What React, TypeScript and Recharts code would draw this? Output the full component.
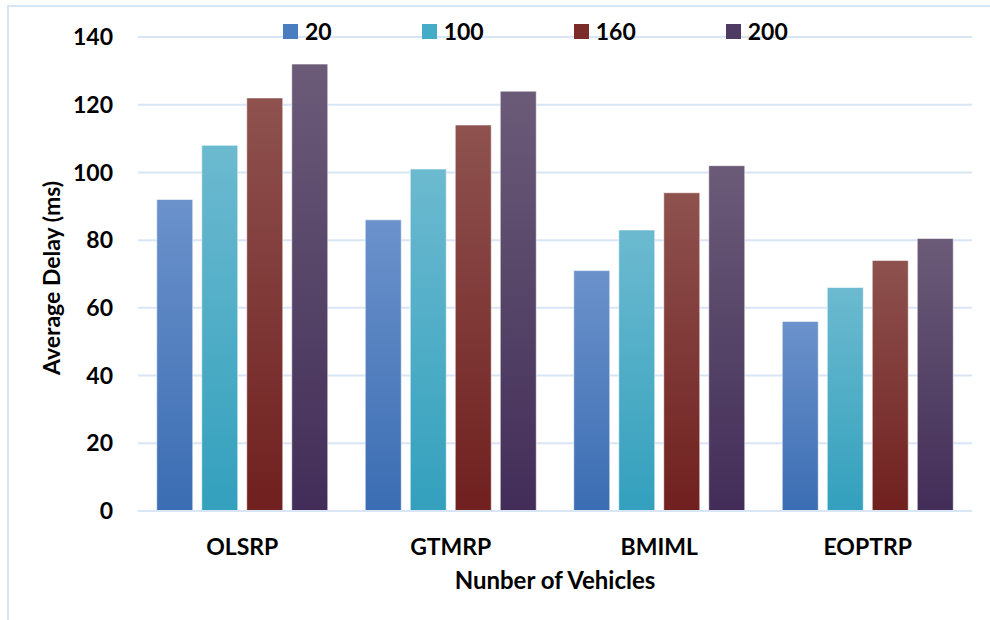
import React from "react";
import { Bar, BarChart, CartesianGrid, Legend, XAxis, YAxis } from "recharts";

const protocols = ["OLSRP", "GTMRP", "BMIML", "EOPTRP"];
const vehicles20 = [92, 86, 71, 56];
const vehicles100 = [108, 101, 83, 66];
const vehicles160 = [122, 114, 94, 74];
const vehicles200 = [132, 124, 102, 80.5];
const yTicks = [0, 20, 40, 60, 80, 100, 120, 140];

const series = [
  { key: "v20", name: "20", top: "#6b92cb", bottom: "#3b6db3", flat: "#4a7cc0" },
  { key: "v100", name: "100", top: "#6cbad0", bottom: "#33a0bd", flat: "#45acc8" },
  { key: "v160", name: "160", top: "#8e524f", bottom: "#70201e", flat: "#7b2b28" },
  { key: "v200", name: "200", top: "#6b5b78", bottom: "#422d58", flat: "#4e3b63" },
];

const data = protocols.map((name, i) => ({
  name,
  v20: vehicles20[i],
  v100: vehicles100[i],
  v160: vehicles160[i],
  v200: vehicles200[i],
}));

const font = "Lato, 'Open Sans', sans-serif";
const gridColor = "#d8e5f5";

// keep the series order, the default legend sorts by value
const renderLegend = () => (
  <div style={{ display: "flex", alignItems: "center", fontFamily: font, fontWeight: 700, fontSize: 23, color: "#000" }}>
    {series.map((s) => (
      <div key={s.key} style={{ display: "flex", alignItems: "center", marginRight: 90 }}>
        <span style={{ display: "inline-block", width: 15, height: 15, background: s.flat, marginRight: 7 }} />
        <span style={{ lineHeight: "18px" }}>{s.name}</span>
      </div>
    ))}
  </div>
);

export default function App() {
  return (
    <div style={{ position: "absolute", left: 0, top: 0, width: 990, height: 620, background: "#fff" }}>
      <div
        style={{
          position: "absolute",
          left: 7,
          top: 5,
          width: 983,
          height: 615,
          borderTop: `2px solid ${gridColor}`,
          borderLeft: `2px solid ${gridColor}`,
        }}
      />
      <BarChart
        width={990}
        height={620}
        data={data}
        margin={{ top: 37, right: 18, left: 38, bottom: 10 }}
        barCategoryGap="9%"
        barGap={9}
      >
        <defs>
          {series.map((s) => (
            <linearGradient key={s.key} id={`grad-${s.key}`} x1="0" y1="0" x2="0" y2="1">
              <stop offset="0%" stopColor={s.top} />
              <stop offset="100%" stopColor={s.bottom} />
            </linearGradient>
          ))}
        </defs>
        <CartesianGrid vertical={false} stroke={gridColor} strokeWidth={2} />
        <XAxis
          dataKey="name"
          height={99}
          axisLine={{ stroke: gridColor, strokeWidth: 2 }}
          tickLine={false}
          tickSize={0}
          tickMargin={28}
          tick={{ fontFamily: font, fontWeight: 700, fontSize: 23, fill: "#000" }}
          label={{
            value: "Nunber of Vehicles",
            content: (p: any) => {
              const vb = p.viewBox;
              return (
                <text x={vb.x + vb.width / 2} y={vb.y + 78} textAnchor="middle" fontFamily={font} fontWeight={700} fontSize={24} fill="#000">
                  Nunber of Vehicles
                </text>
              );
            },
          }}
        />
        <YAxis
          width={100}
          domain={[0, 140]}
          ticks={yTicks}
          axisLine={false}
          tickLine={false}
          tickSize={0}
          tickMargin={25}
          tick={{ fontFamily: font, fontWeight: 700, fontSize: 23, fill: "#000" }}
          label={{
            value: "Average Delay (ms)",
            content: (p: any) => {
              const vb = p.viewBox;
              const cx = vb.x + 22;
              const cy = vb.y + vb.height / 2 + 4;
              return (
                <text x={cx} y={cy} transform={`rotate(-90 ${cx} ${cy})`} textAnchor="middle" fontFamily={font} fontWeight={700} fontSize={23} fill="#000">
                  Average Delay (ms)
                </text>
              );
            },
          }}
        />
        <Legend
          verticalAlign="middle"
          align="center"
          content={renderLegend}
          wrapperStyle={{ top: 22, left: 283, width: "auto" }}
        />
        {series.map((s) => (
          <Bar
            key={s.key}
            dataKey={s.key}
            name={s.name}
            fill={`url(#grad-${s.key})`}
            stroke="rgba(255,255,255,0.55)"
            strokeWidth={1}
            isAnimationActive={false}
          />
        ))}
      </BarChart>
    </div>
  );
}
